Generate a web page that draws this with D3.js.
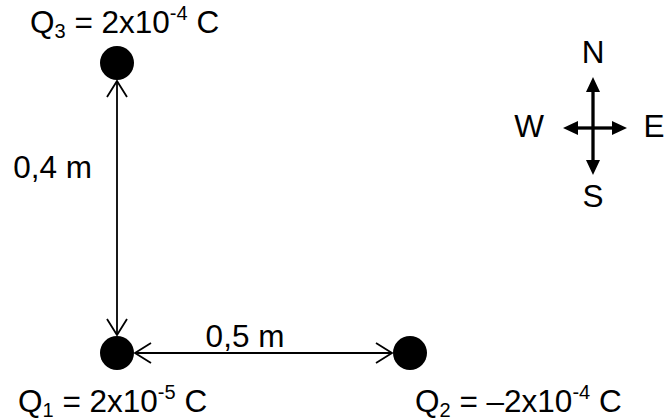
<!DOCTYPE html>
<html>
<head>
<meta charset="utf-8">
<script src="https://cdn.jsdelivr.net/npm/d3@7"></script>
<style>
  body { margin: 0; background: #fff; }
  text { font-family: "Liberation Sans", Arial, sans-serif; fill: #000; }
</style>
</head>
<body>
<svg id="fig" width="665" height="420"></svg>
<script>
// charges: name, subscript, value text (mantissa, exponent), position in metres
var chargeNames = ['Q', 'Q', 'Q'];
var chargeSubs = ['1', '2', '3'];
var chargeMantissa = ['2x10', '\u20132x10', '2x10'];
var chargeExponent = ['-5', '-4', '-4'];
var chargeX = [0, 0.5, 0];
var chargeY = [0, 0, 0.4];

// distances between charges
var distLabels = ['0,5 m', '0,4 m'];
var distFrom = [0, 0];
var distTo = [1, 2];

// compass
var compassDirs = ['N', 'E', 'S', 'W'];
var compassAngles = [0, 90, 180, 270];

var svg = d3.select('#fig');

var x = d3.scaleLinear().domain([0, 0.5]).range([117, 410]);
var y = d3.scaleLinear().domain([0, 0.4]).range([353, 63]);

var radius = 17;
var fontSize = 31.5;
var smallSize = 20;

var charges = chargeNames.map(function(n, i) {
    return { name: n, sub: chargeSubs[i], mant: chargeMantissa[i], exp: chargeExponent[i], cx: x(chargeX[i]), cy: y(chargeY[i]) };
});

// dimension lines with open arrow heads
var openHead = function(g, tipX, tipY, angle) {
    var len = 16, half = 10;
    var ca = Math.cos(angle), sa = Math.sin(angle);
    var bx = tipX - ca * len, by = tipY - sa * len;
    g.append('path')
        .attr('d', 'M' + (bx - sa * half) + ',' + (by + ca * half) + 'L' + tipX + ',' + tipY + 'L' + (bx + sa * half) + ',' + (by - ca * half))
        .attr('fill', 'none')
        .attr('stroke', '#000')
        .attr('stroke-width', 1.8);
};

// label anchor points for the distance texts
var distTextPos = [
    { x: 245, y: 347, anchor: 'middle' },
    { x: 92, y: 178, anchor: 'end' }
];

var dims = svg.append('g');
distLabels.forEach(function(label, i) {
    var a = charges[distFrom[i]], b = charges[distTo[i]];
    var ang = Math.atan2(b.cy - a.cy, b.cx - a.cx);
    var gap = radius + 1;
    var x1 = a.cx + Math.cos(ang) * gap, y1 = a.cy + Math.sin(ang) * gap;
    var x2 = b.cx - Math.cos(ang) * gap, y2 = b.cy - Math.sin(ang) * gap;
    dims.append('line')
        .attr('x1', x1).attr('y1', y1).attr('x2', x2).attr('y2', y2)
        .attr('stroke', '#000').attr('stroke-width', 1.8);
    openHead(dims, x2, y2, ang);
    openHead(dims, x1, y1, ang + Math.PI);

    dims.append('text')
        .attr('font-size', fontSize)
        .attr('x', distTextPos[i].x)
        .attr('y', distTextPos[i].y)
        .attr('text-anchor', distTextPos[i].anchor)
        .text(label);
});

// charges
svg.selectAll('circle.charge')
    .data(charges)
    .enter().append('circle')
    .attr('class', 'charge')
    .attr('cx', function(d) { return d.cx; })
    .attr('cy', function(d) { return d.cy; })
    .attr('r', radius)
    .attr('fill', '#000');

var labelPos = [
    { x: 18, y: 412 },
    { x: 415, y: 412 },
    { x: 30, y: 33 }
];

charges.forEach(function(d, i) {
    var t = svg.append('text')
        .attr('x', labelPos[i].x)
        .attr('y', labelPos[i].y)
        .attr('font-size', fontSize);
    t.append('tspan').text(d.name);
    t.append('tspan').attr('font-size', smallSize).attr('dy', 5).text(d.sub);
    t.append('tspan').attr('dy', -5).text(' = ' + d.mant);
    t.append('tspan').attr('font-size', smallSize).attr('dy', -13).text(d.exp);
    t.append('tspan').attr('dy', 13).text(' C');
});

// compass rose
var cc = { x: 593, y: 128 };
var armLen = [51, 34, 47, 30];
var labelDx = [0, 61, 0, -64];
var labelDy = [-65, 9, 79, 9];
var compass = svg.append('g').attr('transform', 'translate(' + cc.x + ',' + cc.y + ')');

compassDirs.forEach(function(dir, i) {
    var a = (compassAngles[i] - 90) * Math.PI / 180;
    var ca = Math.cos(a), sa = Math.sin(a);
    var L = armLen[i], head = 15, half = 7;
    compass.append('line')
        .attr('x1', 0).attr('y1', 0)
        .attr('x2', ca * (L - head + 1)).attr('y2', sa * (L - head + 1))
        .attr('stroke', '#000').attr('stroke-width', 3.3);
    var bx = ca * (L - head), by = sa * (L - head);
    compass.append('path')
        .attr('d', 'M' + (ca * L) + ',' + (sa * L) + 'L' + (bx - sa * half) + ',' + (by + ca * half) + 'L' + (bx + sa * half) + ',' + (by - ca * half) + 'Z')
        .attr('fill', '#000');
    compass.append('text')
        .attr('x', labelDx[i])
        .attr('y', labelDy[i])
        .attr('text-anchor', 'middle')
        .attr('font-size', fontSize)
        .text(dir);
});
</script>
</body>
</html>
